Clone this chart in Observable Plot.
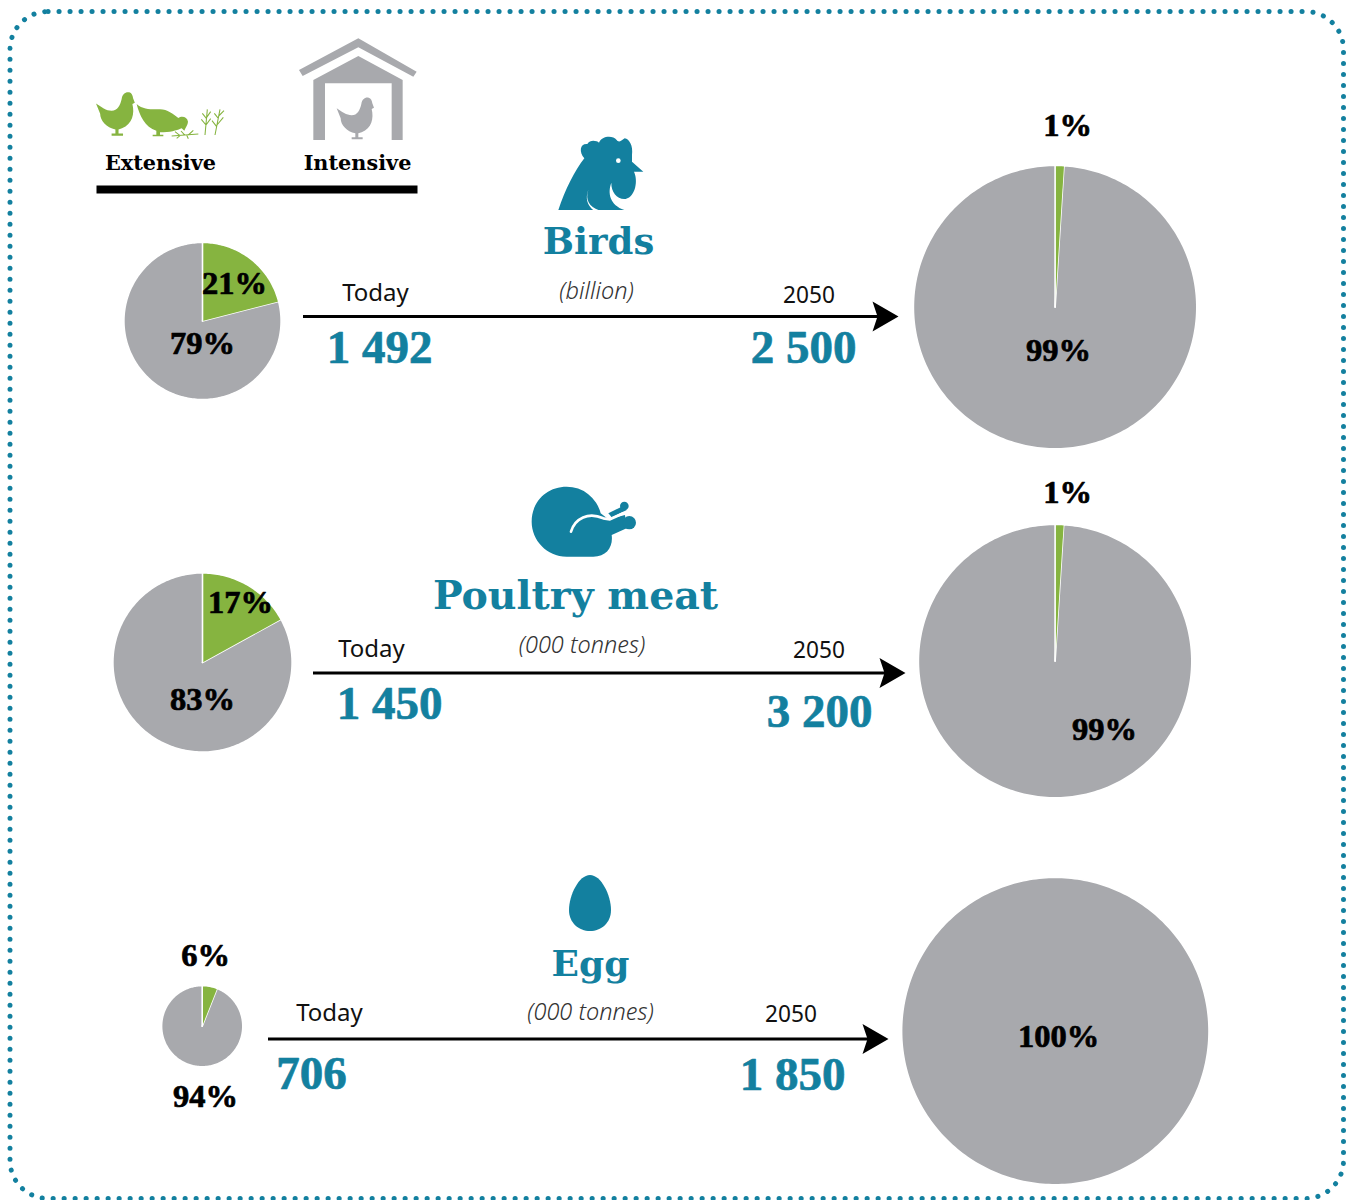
<!DOCTYPE html>
<html>
<head>
<meta charset="utf-8">
<script src="https://cdn.jsdelivr.net/npm/d3@7"></script>
<script src="https://cdn.jsdelivr.net/npm/@observablehq/plot@0.6"></script>
<style>
html,body{margin:0;padding:0;background:#fff}
svg{display:block}
</style>
</head>
<body>
<div id="chart"></div>
<script>
// ---- values ----
const categories = ["Birds", "Poultry meat", "Egg"];
const units = ["(billion)", "(000 tonnes)", "(000 tonnes)"];
const valuesToday = ["1 492", "1 450", "706"];
const values2050 = ["2 500", "3 200", "1 850"];
const extensiveToday = [21, 17, 6];
const intensiveToday = [79, 83, 94];
const extensive2050 = [1, 1, 0];
const intensive2050 = [99, 99, 100];
const methods = ["Extensive", "Intensive"];
const periods = ["Today", "2050"];

// ---- layout (page coordinates) ----
const pieTodayLayout = [{cx:202,cy:320.5,r:78.6},{cx:202,cy:662,r:89.6},{cx:201.7,cy:1025.7,r:40.6}];
const pie2050Layout = [{cx:1054.6,cy:306.6,r:141.7},{cx:1054.6,cy:660.6,r:136.7},{cx:1054.8,cy:1030.6,r:153.7}];
const arrowLayout = [{x1:303,x2:898,y:316},{x1:313,x2:905,y:672.5},{x1:268,x2:888,y:1038.5}];
const titleLayout = [{x:598,y:253,size:37},{x:575,y:608,size:39.5},{x:590,y:975,size:36}];
const unitLayout = [{x:596,y:298.5},{x:581.5,y:652.5},{x:590,y:1019.5}];
const todayLabelLayout = [{x:375,y:300.5},{x:371,y:656.5},{x:329,y:1020.5}];
const futureLabelLayout = [{x:808.5,y:302},{x:818.5,y:657},{x:790.5,y:1021}];
const todayValueLayout = [{x:379,y:362},{x:389,y:718},{x:311,y:1088}];
const futureValueLayout = [{x:803,y:362},{x:819,y:726},{x:792,y:1089}];
const extTodayLabel = [{x:234,y:293},{x:240,y:612},{x:205,y:965}];
const intTodayLabel = [{x:202,y:353},{x:202,y:709},{x:205,y:1106}];
const ext2050Label = [{x:1067,y:135},{x:1067,y:502}];
const int2050Label = [{x:1058,y:360},{x:1104,y:739},{x:1058,y:1046}];

const TEAL = "#13809f", GREEN = "#86b440", GRAY = "#a8a9ad";
const SERIF = "'DejaVu Serif'", NUM = "'Liberation Serif'", SANS = "'Noto Sans'";

// ---- pie slices, built from the shares ----
function slice(id, method, c, from, to) {
  const full = to - from >= 100;
  const pts = [];
  if (!full) pts.push({id, method, x:c.cx, y:c.cy});
  const n = Math.max(4, Math.ceil((to - from) * 3));
  for (let i = 0; i <= n; i++) {
    const a = 2 * Math.PI * (from + (to - from) * i / n) / 100;
    pts.push({id, method, x:c.cx + c.r * Math.sin(a), y:c.cy - c.r * Math.cos(a)});
  }
  return pts;
}
const slices = [];
categories.forEach((cat, i) => {
  slices.push(...slice(cat+"-t-i", methods[1], pieTodayLayout[i], extensiveToday[i], extensiveToday[i]+intensiveToday[i]));
  slices.push(...slice(cat+"-t-e", methods[0], pieTodayLayout[i], 0, extensiveToday[i]));
  slices.push(...slice(cat+"-f-i", methods[1], pie2050Layout[i], extensive2050[i], extensive2050[i]+intensive2050[i]));
  if (extensive2050[i] > 0) slices.push(...slice(cat+"-f-e", methods[0], pie2050Layout[i], 0, extensive2050[i]));
});

const join = (labels, layout) => layout.map((p, i) => ({...p, label: labels[i]}));
const pct = a => a.map(v => v + "%");

function txt(rows, font, size, fill, extra = {}) {
  return Plot.text(rows, {x:"x", y:"y", text:"label", fontFamily:font,
    fontSize: size, fill, lineAnchor:"bottom", textAnchor:"middle", ...extra});
}
const heavy = c => ({fontWeight:"bold", stroke:c, strokeWidth:0.7});

// ---- arrowhead as custom dot symbol ----
const arrowHead = {draw(ctx){ ctx.moveTo(0,0); ctx.lineTo(-26,-15); ctx.lineTo(-21,0); ctx.lineTo(-26,15); ctx.closePath(); }};

// ---- pictograms (decoration) ----
const NS = "http://www.w3.org/2000/svg";
function el(tag, attrs, parent) {
  const e = document.createElementNS(NS, tag);
  for (const k in attrs) e.setAttribute(k, attrs[k]);
  if (parent) parent.appendChild(e);
  return e;
}
const henPath = "M770 235C785 245 800 256 815 256C832 256 840 240 844 222C846 208 855 201 866 203C873 205 876 212 877 220L882 233L875 237C882 265 875 295 845 307L835 310L835 322L848 322L848 328L815 328L815 322L826 322L826 310C800 305 782 285 782 265Z";
const pecking = "M170 222C190 240 215 238 240 238C262 238 280 253 295 264C305 256 322 260 324 275C324 285 316 292 313 302L305 295C295 299 280 306 250 307L240 307L240 314L250 314L250 319L218 319L218 314L229 314L229 302C195 292 178 255 170 222Z";
const grass = "M375 315L382 238M378 285L364 268M378 285L392 266M379 265L367 250M380 262L392 245M405 315L420 238M410 290L396 272M411 285L430 262M415 265L403 250M416 258L432 242M275 318L355 312M300 317L285 305M315 316L303 303M325 315L340 301M300 317L290 325M320 315L325 326";
function icons() {
  const g = el("g", {});
  // legend pictograms (drawn in zoomed coordinates)
  const leg = el("g", {transform:"translate(80,30) scale(0.33333)"}, g);
  el("path", {d:"M657 120L835 25L1010 125L1000 140L835 52L668 138Z", fill:GRAY}, leg);
  el("path", {d:"M700 150L835 78L968 150L968 330L935 330L935 160L735 160L735 330L700 330Z", fill:GRAY}, leg);
  el("path", {d:henPath, fill:GRAY}, leg);
  el("path", {d:henPath, fill:GREEN, transform:"translate(48,188) scale(1.04) translate(-770,-204)"}, leg);
  el("path", {d:pecking, fill:GREEN}, leg);
  el("path", {d:grass, fill:"none", stroke:GREEN, "stroke-width":3.2}, leg);
  // rooster
  const r = el("g", {transform:"translate(530,130) scale(0.33333)"}, g);
  el("path", {d:"M85 240C105 180 135 120 163 85C146 65 150 40 172 42C180 28 200 32 207 38C215 18 248 15 260 30C266 38 272 34 284 25C298 27 310 48 306 75L306 95L340 125L312 125C324 150 318 198 287 207C262 210 243 185 244 158C232 190 240 225 283 240Z", fill:TEAL}, r);
  el("path", {d:"M175 180C165 210 178 230 207 241L190 241C172 225 165 205 175 180Z", fill:"#fff"}, r);
  el("circle", {cx:265, cy:92, r:7, fill:"#fff"}, r);
  // poultry leg
  const m = el("g", {transform:"translate(510,480) scale(0.33333)"}, g);
  el("path", {d:"M170 20A105 105 0 0 1 272 100L295 118L345 105L350 145L305 165C310 200 290 230 250 230L170 230C110 230 65 180 65 125C65 65 110 20 170 20Z", fill:TEAL}, m);
  el("circle", {cx:358, cy:128, r:20, fill:TEAL}, m);
  el("circle", {cx:343, cy:78, r:13, fill:TEAL}, m);
  el("path", {d:"M295 100L335 80L350 90L305 112Z", fill:TEAL}, m);
  el("path", {d:"M183 155C195 115 235 95 280 115L300 118L340 100L365 100", fill:"none", stroke:"#fff", "stroke-width":8, "stroke-linecap":"round", "stroke-linejoin":"round"}, m);
  // egg
  el("path", {d:"M590 875C601 875 611 895 611 910C611 923 601 931 590 931C579 931 569 923 569 910C569 895 579 875 590 875Z", fill:TEAL}, g);
  return g;
}

const chart = Plot.plot({
  width: 1346, height: 1200, margin: 0,
  x: {domain:[0,1346], range:[0,1346], axis:null},
  y: {domain:[0,1200], range:[0,1200], axis:null},
  color: {domain:methods, range:[GREEN, GRAY]},
  marks: [
    Plot.frame({stroke:TEAL, strokeWidth:5, strokeLinecap:"round", strokeDasharray:"0.1 10.9",
      insetLeft:9.5, insetTop:11, insetRight:3, insetBottom:2, rx:38}),
    icons,
    Plot.ruleY([189], {x1:96.5, x2:417.5, stroke:"#000", strokeWidth:8}),
    txt([{x:160,y:169,label:methods[0]},{x:357,y:169,label:methods[1]}], SERIF, 20.8, "#000", {fontWeight:"bold"}),
    Plot.line(slices, {x:"x", y:"y", z:"id", fill:"method", stroke:"#fff", strokeWidth:1.6, curve:"linear"}),
    Plot.ruleY(arrowLayout, {x1:"x1", x2:d => d.x2 - 18, y:"y", stroke:"#000", strokeWidth:3}),
    Plot.dot(arrowLayout, {x:"x2", y:"y", symbol:arrowHead, fill:"#000", stroke:"none"}),
    txt(join(categories, titleLayout), SERIF, d => d.size, TEAL, {fontWeight:"bold"}),
    txt(join(units, unitLayout), SANS, 23.5, "#333", {fontStyle:"italic", fontWeight:300}),
    txt(join(categories.map(() => periods[0]), todayLabelLayout), SANS, 24, "#111"),
    txt(join(categories.map(() => periods[1]), futureLabelLayout), SANS, 22.7, "#111"),
    txt(join(valuesToday, todayValueLayout), NUM, 47, TEAL, heavy(TEAL)),
    txt(join(values2050, futureValueLayout), NUM, 47, TEAL, heavy(TEAL)),
    txt(join(pct(extensiveToday), extTodayLabel), NUM, 32.5, "#000", heavy("#000")),
    txt(join(pct(intensiveToday), intTodayLabel), NUM, 32.5, "#000", heavy("#000")),
    txt(join(pct(extensive2050.slice(0,2)), ext2050Label), NUM, 32.5, "#000", heavy("#000")),
    txt(join(pct(intensive2050), int2050Label), NUM, 32.5, "#000", heavy("#000"))
  ]
});
document.getElementById("chart").appendChild(chart);
</script>
</body>
</html>
